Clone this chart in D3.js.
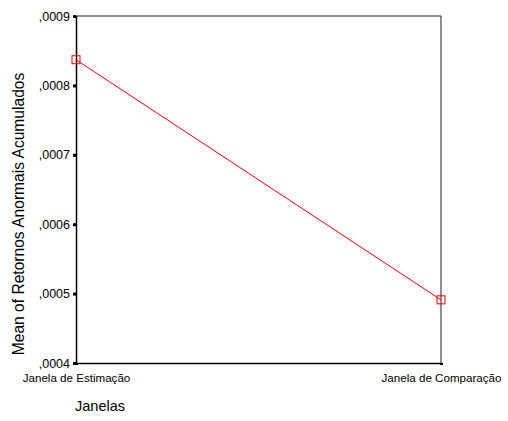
<!DOCTYPE html>
<html>
<head>
<meta charset="utf-8">
<script src="https://cdn.jsdelivr.net/npm/d3@7"></script>
<style>
body { margin: 0; background: #fff; }
text { font-family: Arial, "Liberation Sans", sans-serif; fill: #000; }
</style>
</head>
<body>
<svg id="chart" width="508" height="421"></svg>
<script>
// categorias e medias
var categories = ['Janela de Estimação', 'Janela de Comparação'];
var means = [0.000837, 0.000491];
var yTicks = [0.0004, 0.0005, 0.0006, 0.0007, 0.0008, 0.0009];
var yTickLabels = [',0004', ',0005', ',0006', ',0007', ',0008', ',0009'];

var svg = d3.select('#chart');
var pLeft = 76, pRight = 441, pTop = 16, pBottom = 363;

var x = d3.scalePoint().domain(categories).range([pLeft, pRight]);
var y = d3.scaleLinear().domain([0.0004, 0.0009]).range([pBottom, pTop]);

// moldura
svg.append('line').attr('x1', pLeft).attr('x2', pRight).attr('y1', pTop).attr('y2', pTop)
	.attr('stroke', '#222').attr('stroke-width', 1);
svg.append('line').attr('x1', pRight).attr('x2', pRight).attr('y1', pTop).attr('y2', pBottom)
	.attr('stroke', '#444').attr('stroke-width', 1.2);

// eixo y
var yAxis = d3.axisLeft(y).tickValues(yTicks)
	.tickFormat(function (d, i) { return yTickLabels[i]; })
	.tickSize(3).tickPadding(3);
var gy = svg.append('g').attr('transform', 'translate(' + pLeft + ',0)').call(yAxis);
gy.select('.domain').attr('stroke', '#000').attr('stroke-width', 1.5);
gy.selectAll('.tick line').attr('stroke', '#000').attr('stroke-width', 3);
gy.selectAll('.tick text').attr('font-size', 12.5).attr('font-family', 'Arial, "Liberation Sans", sans-serif');

// eixo x
var xAxis = d3.axisBottom(x).tickSize(2).tickPadding(9);
var gx = svg.append('g').attr('transform', 'translate(0,' + pBottom + ')').call(xAxis);
gx.select('.domain').attr('stroke', '#000').attr('stroke-width', 1.5);
gx.selectAll('.tick line').attr('stroke', '#000').attr('stroke-width', 3);
gx.selectAll('.tick text').attr('font-size', 11.6).attr('font-family', 'Arial, "Liberation Sans", sans-serif');

// linha
var line = d3.line()
	.x(function (d, i) { return x(categories[i]); })
	.y(function (d) { return y(d); });

svg.append('path').datum(means)
	.attr('d', line)
	.attr('fill', 'none')
	.attr('stroke', '#ff0000')
	.attr('stroke-width', 1);

svg.selectAll('rect.marker').data(means).enter()
	.append('rect')
	.attr('class', 'marker')
	.attr('x', function (d, i) { return x(categories[i]) - 4; })
	.attr('y', function (d) { return y(d) - 4; })
	.attr('width', 8)
	.attr('height', 8)
	.attr('fill', 'none')
	.attr('stroke', '#ff0000')
	.attr('stroke-width', 1);

// titulos
svg.append('text')
	.attr('transform', 'translate(24,214) rotate(-90)')
	.attr('text-anchor', 'middle')
	.attr('font-size', 15.6)
	.text('Mean of Retornos Anormais Acumulados');

svg.append('text')
	.attr('x', 75).attr('y', 411)
	.attr('font-size', 14.5)
	.text('Janelas');
</script>
</body>
</html>
